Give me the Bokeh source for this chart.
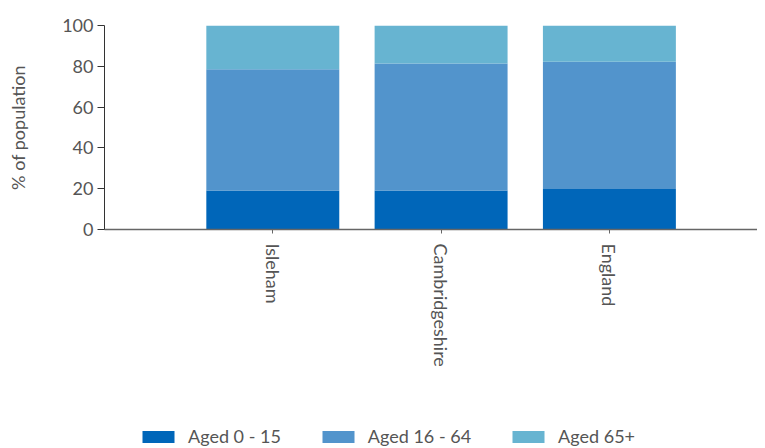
from bokeh.plotting import figure
from bokeh.layouts import column
from bokeh.models import ColumnDataSource, Range1d, FixedTicker, Legend, LegendItem
from bokeh.embed import file_html
from bokeh.resources import INLINE

categories = ["Isleham", "Cambridgeshire", "England"]
aged_0_15 = [19.1, 19.1, 19.9]
aged_16_64 = [59.5, 62.3, 62.3]
aged_65_plus = [21.4, 18.6, 17.8]
series_names = ["Aged 0 - 15", "Aged 16 - 64", "Aged 65+"]
y_ticks = [0, 20, 40, 60, 80, 100]

colors = ["#0066B9", "#5294CC", "#67B4D1"]
FONT = "Lato"
TXT = "#555555"
FS = "18px"

xs = list(range(len(categories)))
src = ColumnDataSource(dict(x=xs, a=aged_0_15, b=aged_16_64, c=aged_65_plus))

p = figure(width=757, height=420, output_backend="svg", toolbar_location=None,
           x_range=Range1d(-1.0, 2.88), y_range=Range1d(0, 100),
           min_border_left=104, min_border_right=0, min_border_top=25,
           min_border_bottom=191)
p.outline_line_color = None
p.grid.visible = False

rs = p.vbar_stack(["a", "b", "c"], x="x", width=0.79, source=src,
                  color=colors, line_color=None)

# y axis
ya = p.yaxis[0]
ya.ticker = FixedTicker(ticks=y_ticks)
ya.minor_tick_line_color = None
ya.major_tick_out = 7
ya.major_tick_in = 0
ya.major_label_standoff = 4
ya.axis_label = "% of population"
ya.axis_label_standoff = 30
ya.axis_label_text_font = FONT
ya.axis_label_text_font_size = FS
ya.axis_label_text_font_style = "normal"
ya.axis_label_text_color = TXT
ya.major_label_text_font = FONT
ya.major_label_text_font_size = FS
ya.major_label_text_color = TXT
ya.axis_line_color = "#333333"
ya.major_tick_line_color = "#333333"

# x axis
xa = p.xaxis[0]
xa.ticker = FixedTicker(ticks=xs)
xa.major_label_overrides = {i: c for i, c in zip(xs, categories)}
xa.major_label_orientation = "vertical"
xa.minor_tick_line_color = None
xa.major_tick_out = 4
xa.major_tick_in = 0
xa.major_label_standoff = 10
xa.major_label_text_font = FONT
xa.major_label_text_font_size = FS
xa.major_label_text_color = TXT
xa.axis_line_color = "#666666"
xa.axis_line_width = 1.5
xa.major_tick_line_color = "#666666"

# legend strip (same series, hidden renderers so only the legend shows)
p2 = figure(width=757, height=28, output_backend="svg", toolbar_location=None,
            x_axis_location=None, y_axis_location=None,
            min_border_left=104, min_border_right=0, min_border_top=0,
            min_border_bottom=0, x_range=Range1d(-1.0, 2.88), y_range=Range1d(0, 100))
p2.outline_line_color = None
p2.grid.visible = False
rs2 = p2.vbar_stack(["a", "b", "c"], x="x", width=0.79, source=src,
                    color=colors, line_color=None)
for r in rs2:
    r.visible = False

legend = Legend(items=[LegendItem(label=n, renderers=[r]) for n, r in zip(series_names, rs2)],
                orientation="horizontal", location=(34, 1),
                glyph_width=40, glyph_height=15, label_height=15,
                label_standoff=10, spacing=37, padding=0, margin=0,
                label_text_font=FONT, label_text_font_size=FS,
                label_text_color=TXT, border_line_color=None,
                background_fill_alpha=0, inactive_fill_alpha=0)
p2.add_layout(legend, "center")

layout = column(p, p2, spacing=0)
open("out.html", "w").write(file_html(layout, INLINE))
